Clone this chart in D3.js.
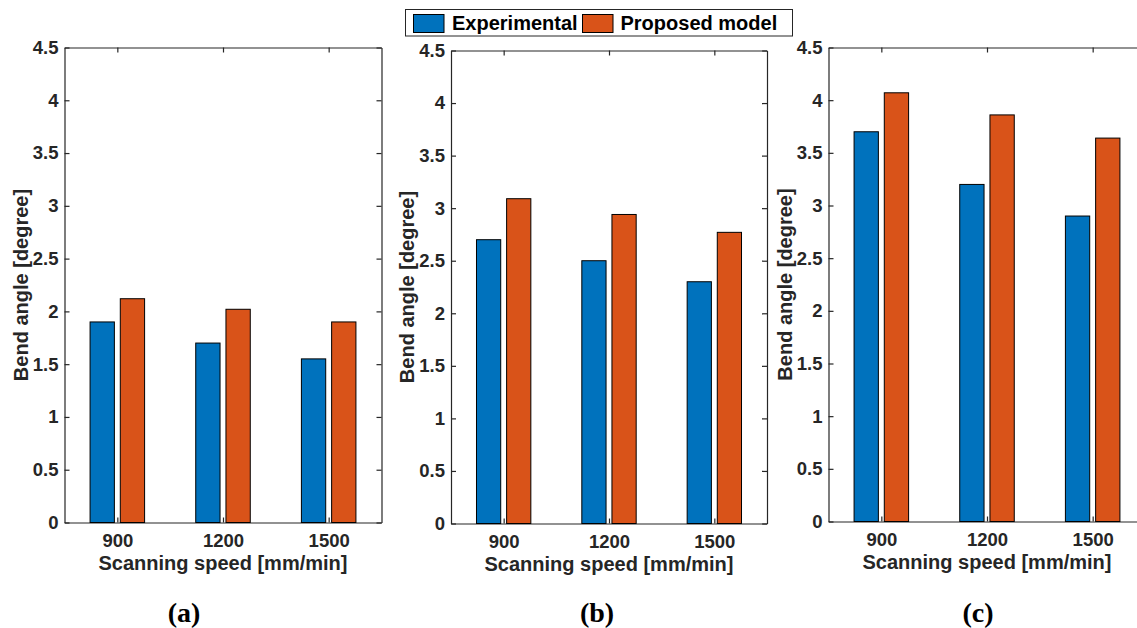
<!DOCTYPE html>
<html>
<head>
<meta charset="utf-8">
<script src="https://cdn.jsdelivr.net/npm/d3@7"></script>
<style>
  body { margin: 0; background: #fff; }
  svg { display: block; }
  text { font-family: "Liberation Sans", Arial, sans-serif; font-weight: bold; fill: #262626; }
</style>
</head>
<body>
<div id="chart"></div>
<script>
// scanning speeds (categories)
var speeds = ['900', '1200', '1500'];
var yTicks = [0, 0.5, 1, 1.5, 2, 2.5, 3, 3.5, 4, 4.5];
var seriesNames = ['Experimental', 'Proposed model'];
var seriesColors = ['#0072BD', '#D95319'];

// panel (a)
var expA = [1.9, 1.7, 1.55];
var modA = [2.12, 2.02, 1.9];
// panel (b)
var expB = [2.7, 2.5, 2.3];
var modB = [3.09, 2.94, 2.77];
// panel (c)
var expC = [3.7, 3.2, 2.9];
var modC = [4.07, 3.86, 3.64];

var W = 1137, H = 628;
var svg = d3.select('#chart').append('svg').attr('width', W).attr('height', H);

var panels = [
  { tag: '(a)', exp: expA, mod: modA, left: 64.5, top: 47.5, width: 317, height: 475, tagX: 184 },
  { tag: '(b)', exp: expB, mod: modB, left: 451, top: 50.5, width: 316, height: 473, tagX: 597 },
  { tag: '(c)', exp: expC, mod: modC, left: 828.5, top: 47.5, width: 317, height: 474, tagX: 978 }
];

var barW = 0.23, barOff = 0.143, tickLen = 5;

panels.forEach(function (p) {
  var x = d3.scaleLinear().domain([0.5, 3.5]).range([0, p.width]);
  var y = d3.scaleLinear().domain([0, 4.5]).range([p.height, 0]);
  var g = svg.append('g').attr('transform', 'translate(' + p.left + ',' + p.top + ')');

  // bars
  [p.exp, p.mod].forEach(function (vals, s) {
    g.selectAll('rect.s' + s)
      .data(vals)
      .enter().append('rect')
      .attr('class', 's' + s)
      .attr('x', function (d, i) { return x(i + 1 + (s === 0 ? -barOff : barOff) - barW / 2); })
      .attr('width', x(1 + barW) - x(1))
      .attr('y', function (d) { return y(d); })
      .attr('height', function (d) { return y(0) - y(d); })
      .attr('fill', seriesColors[s])
      .attr('stroke', '#000')
      .attr('stroke-width', 1);
  });

  var xTickVals = [1, 2, 3];

  // axes
  var left = g.append('g')
    .call(d3.axisLeft(y).tickValues(yTicks).tickFormat(d3.format('')).tickSizeInner(-tickLen).tickSizeOuter(0).tickPadding(6));
  var right = g.append('g').attr('transform', 'translate(' + p.width + ',0)')
    .call(d3.axisRight(y).tickValues(yTicks).tickFormat('').tickSizeInner(-tickLen).tickSizeOuter(0));
  var bottom = g.append('g').attr('transform', 'translate(0,' + p.height + ')')
    .call(d3.axisBottom(x).tickValues(xTickVals).tickFormat(function (d) { return speeds[d - 1]; })
      .tickSizeInner(-tickLen).tickSizeOuter(0).tickPadding(11));
  var top = g.append('g')
    .call(d3.axisTop(x).tickValues(xTickVals).tickFormat('').tickSizeInner(-tickLen).tickSizeOuter(0));

  [left, right, bottom, top].forEach(function (a) {
    a.select('.domain').attr('stroke', '#262626').attr('stroke-width', 1.2);
    a.selectAll('.tick line').attr('stroke', '#262626').attr('stroke-width', 1.2);
    a.selectAll('text').attr('fill', '#262626').attr('font-family', '"Liberation Sans", Arial, sans-serif')
      .attr('font-weight', 'bold').attr('font-size', '18.5px');
  });
  // keep tick marks beneath data edges like MATLAB
  left.lower(); bottom.lower();

  // axis labels
  g.append('text')
    .attr('x', p.width / 2)
    .attr('y', p.height + 47.5)
    .attr('text-anchor', 'middle')
    .style('font-size', '20px')
    .text('Scanning speed [mm/min]');

  g.append('text')
    .attr('transform', 'translate(-37,' + (p.height / 2) + ') rotate(-90)')
    .attr('text-anchor', 'middle')
    .style('font-size', '20px')
    .text('Bend angle [degree]');

  svg.append('text')
    .attr('x', p.tagX)
    .attr('y', 621.5)
    .attr('text-anchor', 'middle')
    .style('font-family', '"Liberation Serif", "Times New Roman", serif')
    .style('font-size', '28px')
    .style('fill', '#000')
    .text(p.tag);
});

// legend
var legend = svg.append('g');
legend.append('rect')
  .attr('x', 405.5).attr('y', 9.5).attr('width', 387).attr('height', 26.5)
  .attr('fill', '#fff').attr('stroke', '#262626').attr('stroke-width', 1);
var legendItems = [
  { sx: 413.5, tx: 452 },
  { sx: 582.5, tx: 620.5 }
];
legendItems.forEach(function (it, i) {
  legend.append('rect')
    .attr('x', it.sx).attr('y', 14.5).attr('width', 30.5).attr('height', 18)
    .attr('fill', seriesColors[i]).attr('stroke', '#000').attr('stroke-width', 1);
  legend.append('text')
    .attr('x', it.tx).attr('y', 30)
    .style('font-size', '20px')
    .style('fill', '#000')
    .text(seriesNames[i]);
});
</script>
</body>
</html>
